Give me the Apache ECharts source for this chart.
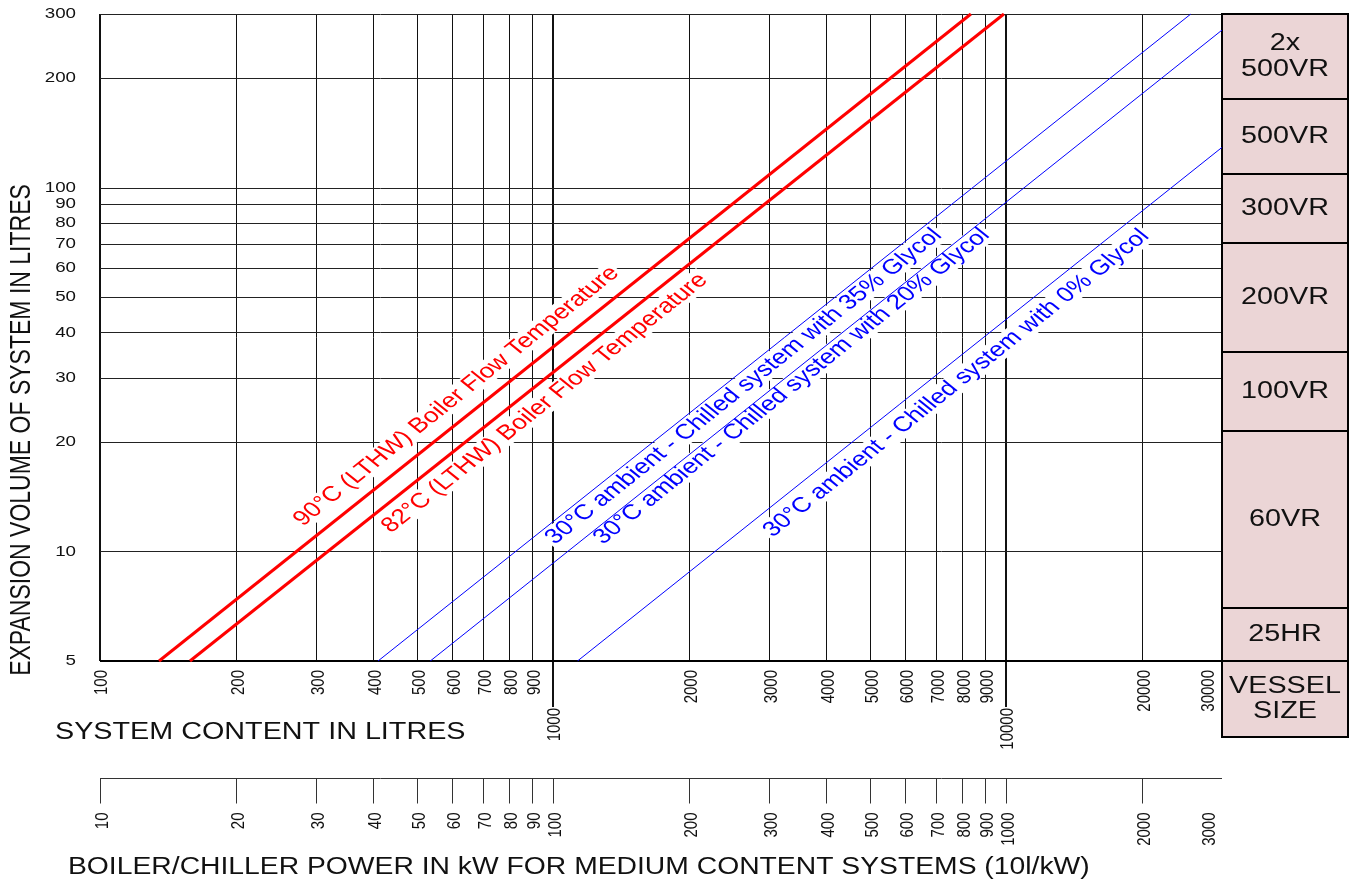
<!DOCTYPE html>
<html><head><meta charset="utf-8">
<script src="https://cdn.jsdelivr.net/npm/echarts@6/dist/echarts.min.js"></script>
<style>html,body{margin:0;padding:0;background:#fff}#c{width:1352px;height:883px}</style>
</head><body><div id="c"></div>
<script>
// ---------------- data ----------------
const contentTicks = [100,200,300,400,500,600,700,800,900,1000,2000,3000,4000,5000,6000,7000,8000,9000,10000,20000,30000];
const volumeTicks = [5,10,20,30,40,50,60,70,80,90,100,200,300];
const powerTicks = [10,20,30,40,50,60,70,80,90,100,200,300,400,500,600,700,800,900,1000,2000,3000];

const lineTexts = [
  '90°C (LTHW) Boiler Flow Temperature',
  '82°C (LTHW) Boiler Flow Temperature',
  '30°C ambient - Chilled system with 35% Glycol',
  '30°C ambient - Chilled system with 20% Glycol',
  '30°C ambient - Chilled system with 0% Glycol'
];
// [system content (l), expansion volume (l)]
const line90 = [[135, 5], [8370, 300]];
const line82 = [[158, 5], [9900, 300]];
const glycol35 = [[411, 5], [25600, 300]];
const glycol20 = [[536, 5], [30000, 271]];
const glycol0 = [[1133, 5], [30000, 129]];
const lineData = [line90, line82, glycol35, glycol20, glycol0];

const vesselNames = ['25HR', '60VR', '100VR', '200VR', '300VR', '500VR', '2x\n500VR'];
const vesselUpper = [7.0, 21.5, 35.4, 70.6, 109, 175, 300];
const vesselFooter = 'VESSEL\nSIZE';

const axisTitles = {
  y: 'EXPANSION VOLUME OF SYSTEM IN LITRES',
  x: 'SYSTEM CONTENT IN LITRES',
  power: 'BOILER/CHILLER POWER IN kW FOR MEDIUM CONTENT SYSTEMS (10l/kW)'
};

// ---------------- layout / style ----------------
const S = 1.25; // horizontal stretch of the drawing's lettering
const FONT = '"Liberation Sans", Arial, sans-serif';
const lineColors = ['#ff0000', '#ff0000', '#0000ff', '#0000ff', '#0000ff'];
const lineWidths = [3, 3, 1, 1, 1];
// label anchors (middle-left of the text) in data space
const labelAnchors = [[271, 11.9], [424, 11.4], [975, 10.6], [1245, 10.6], [2950, 11.1]];

function isPow10(v) { const l = Math.log10(v); return Math.abs(l - Math.round(l)) < 1e-9; }
function crisp(p, w) { return w % 2 === 1 ? Math.round(p) + 0.5 : Math.round(p); }

const chart = echarts.init(document.getElementById('c'), null, {renderer: 'canvas'});

const hiddenAxis = {axisLine: {show: false}, axisTick: {show: false}, axisLabel: {show: false}, splitLine: {show: false}};

const series = [];

// vertical grid lines + content labels
series.push({
  type: 'custom', xAxisIndex: 0, yAxisIndex: 0, clip: false, silent: true, z: 1,
  data: contentTicks.map(v => [v, 5]),
  renderItem: function (params, api) {
    const v = api.value(0);
    const t = api.coord([v, volumeTicks[volumeTicks.length - 1]]);
    const b = api.coord([v, volumeTicks[0]]);
    const first = params.dataIndex === 0;
    const last = params.dataIndex === contentTicks.length - 1;
    const major = isPow10(v) && !first;
    const w = (first || last || major) ? 2 : 1;
    const x = crisp(t[0], w);
    const yEnd = major ? b[1] + 46 : b[1];
    const labelTop = major ? b[1] + 47 : b[1] + 9;
    const lx = last ? x - 13 : x + 2;
    return {type: 'group', children: [
      {type: 'line', shape: {x1: x, y1: t[1], x2: x, y2: yEnd}, style: {stroke: '#111', lineWidth: w}},
      {type: 'text', x: lx, y: labelTop, rotation: Math.PI / 2, scaleY: S,
        style: {text: String(v), font: '15px ' + FONT, fill: '#111', align: 'right', verticalAlign: 'middle'}}
    ]};
  }
});

// horizontal grid lines + volume labels
series.push({
  type: 'custom', xAxisIndex: 0, yAxisIndex: 0, clip: false, silent: true, z: 1,
  data: volumeTicks.map(v => [contentTicks[0], v]),
  renderItem: function (params, api) {
    const v = api.value(1);
    const l = api.coord([contentTicks[0], v]);
    const r = api.coord([contentTicks[contentTicks.length - 1], v]);
    const w = params.dataIndex === 0 ? 2 : 1;
    const y = crisp(l[1], w);
    return {type: 'group', children: [
      {type: 'line', shape: {x1: l[0], y1: y, x2: r[0], y2: y}, style: {stroke: params.dataIndex === 0 ? '#000' : '#222', lineWidth: w}},
      {type: 'text', x: l[0] - 24, y: l[1], scaleX: S,
        style: {text: String(v), font: '15px ' + FONT, fill: '#111', align: 'right', verticalAlign: 'middle'}}
    ]};
  }
});

// curve labels
series.push({
  type: 'custom', xAxisIndex: 0, yAxisIndex: 0, clip: false, silent: true, z: 3,
  data: labelAnchors.map(a => [a[0], a[1]]),
  renderItem: function (params, api) {
    const i = params.dataIndex;
    const a = api.coord([api.value(0), api.value(1)]);
    const p1 = api.coord(lineData[i][0]);
    const p2 = api.coord(lineData[i][1]);
    const m = (p1[1] - p2[1]) / (p2[0] - p1[0]);
    const ang = Math.atan(m * S);
    return {type: 'group', x: a[0], y: a[1], scaleX: S, children: [
      {type: 'text', rotation: ang,
        style: {text: lineTexts[i], font: '21px ' + FONT, fill: lineColors[i], align: 'left', verticalAlign: 'middle',
          backgroundColor: '#fff', padding: [0, 2]}}
    ]};
  }
});

// curves
lineData.forEach((d, i) => {
  series.push({
    type: 'line', name: lineTexts[i], xAxisIndex: 0, yAxisIndex: 0, data: d, symbol: 'none', silent: true, z: 5,
    lineStyle: {color: lineColors[i], width: lineWidths[i]}
  });
});

// power (kW) axis
series.push({
  type: 'custom', xAxisIndex: 1, yAxisIndex: 1, clip: false, silent: true, z: 1,
  data: powerTicks.map(v => [v, 1]),
  renderItem: function (params, api) {
    const v = api.value(0);
    const p = api.coord([v, 1]);
    const last = params.dataIndex === powerTicks.length - 1;
    const x = crisp(p[0], 1);
    const y = crisp(p[1], 1);
    const children = [
      {type: 'text', x: last ? x - 13 : x + 2, y: y + 34, rotation: Math.PI / 2, scaleY: S,
        style: {text: String(v), font: '15px ' + FONT, fill: '#111', align: 'right', verticalAlign: 'middle'}}
    ];
    if (!last) {
      children.push({type: 'line', shape: {x1: x, y1: y, x2: x, y2: y + 25}, style: {stroke: '#333', lineWidth: 1}});
    }
    if (params.dataIndex === 0) {
      const e = api.coord([powerTicks[powerTicks.length - 1], 1]);
      children.push({type: 'line', shape: {x1: p[0], y1: y, x2: e[0], y2: y}, style: {stroke: '#333', lineWidth: 1}});
    }
    return {type: 'group', children: children};
  }
});

// vessel size panel
series.push({
  type: 'custom', xAxisIndex: 2, yAxisIndex: 2, clip: false, silent: true, z: 2,
  data: vesselUpper.map((u, i) => [0.5, i === 0 ? volumeTicks[0] : vesselUpper[i - 1], u]),
  renderItem: function (params, api) {
    const lo = api.coord([0, api.value(1)]);
    const hi = api.coord([1, api.value(2)]);
    const x0 = Math.round(lo[0]), x1 = Math.round(hi[0]);
    const y0 = Math.round(hi[1]), y1 = Math.round(lo[1]);
    const children = [
      {type: 'rect', shape: {x: x0, y: y0, width: x1 - x0, height: y1 - y0}, style: {fill: '#ebd5d6', stroke: '#000', lineWidth: 2}},
      {type: 'text', x: (x0 + x1) / 2, y: (y0 + y1) / 2, scaleX: S,
        style: {text: vesselNames[params.dataIndex], font: '23px ' + FONT, fill: '#111', align: 'center', verticalAlign: 'middle', lineHeight: 26}}
    ];
    if (params.dataIndex === 0) {
      children.push({type: 'rect', shape: {x: x0, y: y1, width: x1 - x0, height: 76}, style: {fill: '#ebd5d6', stroke: '#000', lineWidth: 2}});
      children.push({type: 'text', x: (x0 + x1) / 2, y: y1 + 38, scaleX: S,
        style: {text: vesselFooter, font: '23px ' + FONT, fill: '#111', align: 'center', verticalAlign: 'middle', lineHeight: 25}});
    }
    return {type: 'group', children: children};
  }
});

chart.setOption({
  animation: false,
  backgroundColor: '#fff',
  grid: [
    {left: 100, right: 130, top: 14, bottom: 222},
    {left: 100, right: 130, top: 778, height: 40},
    {left: 1222, right: 4, top: 14, bottom: 222}
  ],
  xAxis: [
    Object.assign({gridIndex: 0, type: 'log', logBase: 10, min: 100, max: 30000}, hiddenAxis),
    Object.assign({gridIndex: 1, type: 'log', logBase: 10, min: 10, max: 3000}, hiddenAxis),
    Object.assign({gridIndex: 2, type: 'value', min: 0, max: 1}, hiddenAxis)
  ],
  yAxis: [
    Object.assign({gridIndex: 0, type: 'log', logBase: 10, min: 5, max: 300}, hiddenAxis),
    Object.assign({gridIndex: 1, type: 'value', min: 0, max: 1}, hiddenAxis),
    Object.assign({gridIndex: 2, type: 'log', logBase: 10, min: 5, max: 300}, hiddenAxis)
  ],
  graphic: [
    {type: 'text', x: 22, y: 430, rotation: Math.PI / 2, scaleY: S,
      style: {text: axisTitles.y, font: '23px ' + FONT, fill: '#111', align: 'center', verticalAlign: 'middle'}},
    {type: 'text', x: 55, y: 733, scaleX: S,
      style: {text: axisTitles.x, font: '23px ' + FONT, fill: '#111', align: 'left', verticalAlign: 'middle'}},
    {type: 'text', x: 68, y: 868, scaleX: 1.23,
      style: {text: axisTitles.power, font: '23px ' + FONT, fill: '#111', align: 'left', verticalAlign: 'middle'}}
  ],
  series: series
});
</script>
</body></html>
